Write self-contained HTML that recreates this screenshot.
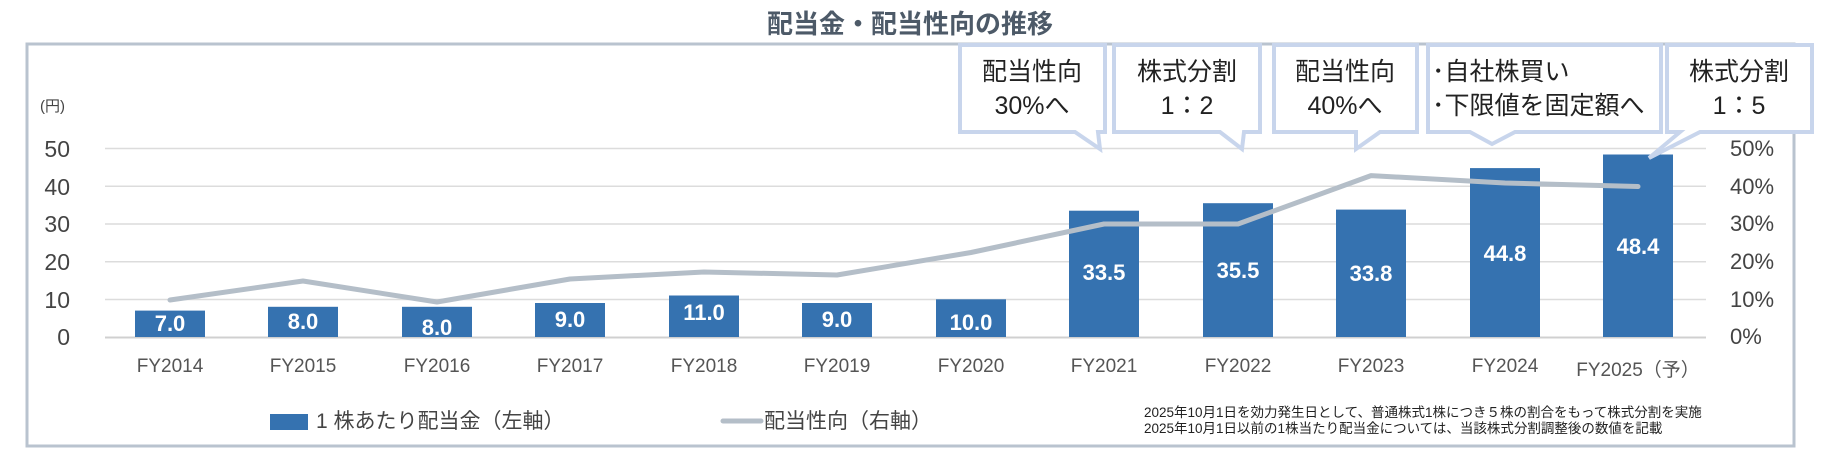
<!DOCTYPE html>
<html><head><meta charset="utf-8"><style>
body{margin:0;background:#fff;}
svg{display:block;font-family:"Liberation Sans","Noto Sans CJK JP",sans-serif;}
</style></head><body>
<svg width="1823" height="457" viewBox="0 0 1823 457" xmlns="http://www.w3.org/2000/svg">
<rect x="27" y="44" width="1767" height="402" fill="#fff" stroke="#b9c3cf" stroke-width="3"/>
<text x="910" y="33" text-anchor="middle" font-size="26" font-weight="bold" fill="#4d5a68">配当金・配当性向の推移</text>
<g stroke="#dcdcdc" stroke-width="1.5">
<line x1="105" x2="1706" y1="148.5" y2="148.5"/><line x1="105" x2="1706" y1="186.2" y2="186.2"/>
<line x1="105" x2="1706" y1="224" y2="224"/><line x1="105" x2="1706" y1="261.7" y2="261.7"/>
<line x1="105" x2="1706" y1="299.5" y2="299.5"/>
</g>
<line x1="105" x2="1706" y1="337.5" y2="337.5" stroke="#d0d0d0" stroke-width="2"/>
<g font-size="23" fill="#444">
<text x="40" y="111" font-size="15">(円)</text>
<text x="70" y="157" text-anchor="end">50</text><text x="70" y="195" text-anchor="end">40</text>
<text x="70" y="232" text-anchor="end">30</text><text x="70" y="270" text-anchor="end">20</text>
<text x="70" y="308" text-anchor="end">10</text><text x="70" y="345" text-anchor="end">0</text>
</g>
<g font-size="22" fill="#444">
<text x="1730" y="156">50%</text><text x="1730" y="194">40%</text><text x="1730" y="231">30%</text>
<text x="1730" y="269">20%</text><text x="1730" y="307">10%</text><text x="1730" y="344">0%</text>
</g>
<g fill="#3572b0">
<rect x="135" y="310.6" width="70" height="26.4"/>
<rect x="268" y="306.8" width="70" height="30.2"/>
<rect x="402" y="306.8" width="70" height="30.2"/>
<rect x="535" y="303" width="70" height="34"/>
<rect x="669" y="295.5" width="70" height="41.5"/>
<rect x="802" y="303" width="70" height="34"/>
<rect x="936" y="299.3" width="70" height="37.7"/>
<rect x="1069" y="210.7" width="70" height="126.3"/>
<rect x="1203" y="203.2" width="70" height="133.8"/>
<rect x="1336" y="209.6" width="70" height="127.4"/>
<rect x="1470" y="168.1" width="70" height="168.9"/>
<rect x="1603" y="154.5" width="70" height="182.5"/>
</g>
<g font-size="22" font-weight="bold" fill="#fff" text-anchor="middle">
<text x="170" y="331">7.0</text><text x="303" y="329">8.0</text><text x="437" y="335">8.0</text>
<text x="570" y="327">9.0</text><text x="704" y="320">11.0</text><text x="837" y="327">9.0</text>
<text x="971" y="330">10.0</text><text x="1104" y="280">33.5</text><text x="1238" y="278">35.5</text>
<text x="1371" y="281">33.8</text><text x="1505" y="261">44.8</text><text x="1638" y="254">48.4</text>
</g>
<polyline fill="none" stroke="#b4bec8" stroke-width="5" stroke-linejoin="round" stroke-linecap="round"
points="170,300 303,281 437,302 570,279 704,272 837,275 971,252.5 1104,224 1238,224 1371,175.6 1505,183 1638,186.5"/>
<g font-size="19" fill="#555" text-anchor="middle">
<text x="170" y="372">FY2014</text><text x="303" y="372">FY2015</text><text x="437" y="372">FY2016</text>
<text x="570" y="372">FY2017</text><text x="704" y="372">FY2018</text><text x="837" y="372">FY2019</text>
<text x="971" y="372">FY2020</text><text x="1104" y="372">FY2021</text><text x="1238" y="372">FY2022</text>
<text x="1371" y="372">FY2023</text><text x="1505" y="372">FY2024</text><text x="1638" y="376">FY2025（予）</text>
</g>
<g fill="#fff" stroke="#c8d5ec" stroke-width="4" stroke-linejoin="miter">
<path d="M960,45 H1105 V132 H1098 L1100,149 L1075,132 H960 Z"/>
<path d="M1114,45 H1260 V132 H1244 L1242,149 L1220,132 H1114 Z"/>
<path d="M1274,45 H1417 V132 H1380 L1356,149 L1356,132 H1274 Z"/>
<path d="M1428,45 H1661 V132 H1515 L1492,144 L1470,132 H1428 Z"/>
<path d="M1667,45 H1812 V132 H1700 L1649,158 L1680,132 H1667 Z"/>
</g>
<g font-size="25" fill="#222" text-anchor="middle">
<text x="1032" y="80">配当性向</text><text x="1032" y="114">30%へ</text>
<text x="1187" y="80">株式分割</text><text x="1187" y="114">1：2</text>
<text x="1345" y="80">配当性向</text><text x="1345" y="114">40%へ</text>
<text x="1432" y="80" text-anchor="start">･自社株買い</text><text x="1432" y="114" text-anchor="start">･下限値を固定額へ</text>
<text x="1739" y="80">株式分割</text><text x="1739" y="114">1：5</text>
</g>
<rect x="270" y="414" width="38" height="16" fill="#3572b0"/>
<text x="316" y="428" font-size="21" fill="#444">1 株あたり配当金（左軸）</text>
<line x1="723" x2="761" y1="421" y2="421" stroke="#b4bec8" stroke-width="5" stroke-linecap="round"/>
<text x="764" y="428" font-size="21" fill="#444">配当性向（右軸）</text>
<g font-size="13.5" fill="#222">
<text x="1144" y="417">2025年10月1日を効力発生日として、普通株式1株につき５株の割合をもって株式分割を実施</text>
<text x="1144" y="433">2025年10月1日以前の1株当たり配当金については、当該株式分割調整後の数値を記載</text>
</g>
</svg>
</body></html>
